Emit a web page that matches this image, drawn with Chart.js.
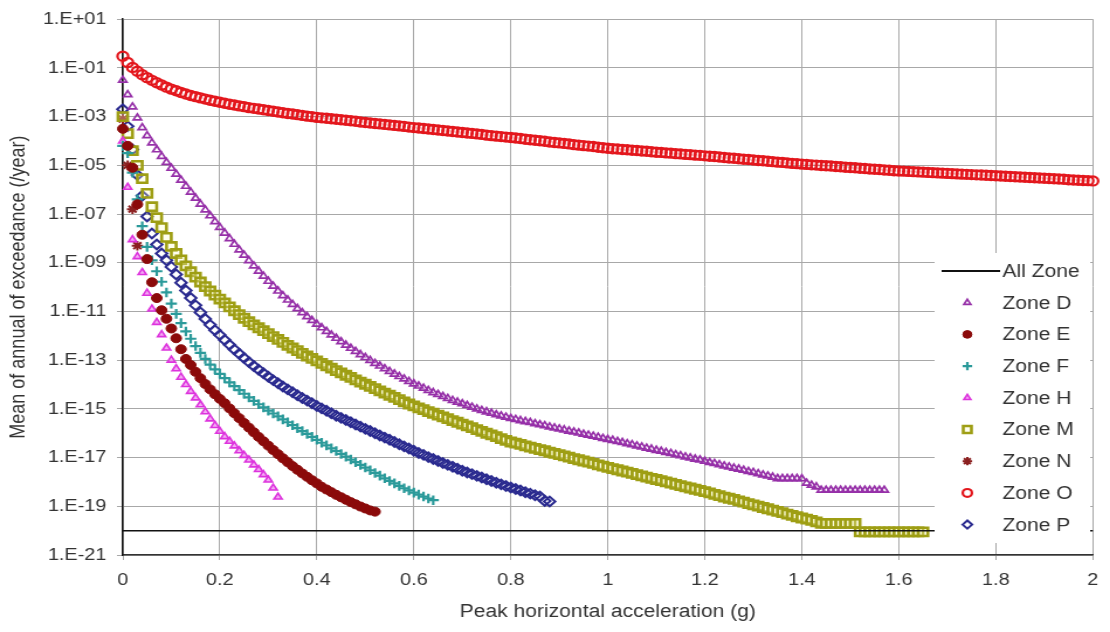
<!DOCTYPE html>
<html>
<head>
<meta charset="utf-8">
<script src="https://cdn.jsdelivr.net/npm/chart.js@4.4.1/dist/chart.umd.min.js"></script>
<style>
  html, body { margin: 0; padding: 0; background: #fff; overflow: hidden; }
  /* the source picture is stretched sideways, so the chart is drawn narrower and scaled */
  #wrap { width: 949px; height: 632px; transform: scaleX(1.1697); transform-origin: 0 0; }
</style>
</head>
<body>
<div id="wrap"><canvas id="hazard-chart"></canvas></div>
<script>
// peak horizontal acceleration (g), shared by every zone
const pga = [
  0,0.01,0.02,0.03,0.04,0.05,0.06,0.07,0.08,0.09,
  0.1,0.11,0.12,0.13,0.14,0.15,0.16,0.17,0.18,0.19,
  0.2,0.21,0.22,0.23,0.24,0.25,0.26,0.27,0.28,0.29,
  0.3,0.31,0.32,0.33,0.34,0.35,0.36,0.37,0.38,0.39,
  0.4,0.41,0.42,0.43,0.44,0.45,0.46,0.47,0.48,0.49,
  0.5,0.51,0.52,0.53,0.54,0.55,0.56,0.57,0.58,0.59,
  0.6,0.61,0.62,0.63,0.64,0.65,0.66,0.67,0.68,0.69,
  0.7,0.71,0.72,0.73,0.74,0.75,0.76,0.77,0.78,0.79,
  0.8,0.81,0.82,0.83,0.84,0.85,0.86,0.87,0.88,0.89,
  0.9,0.91,0.92,0.93,0.94,0.95,0.96,0.97,0.98,0.99,
  1,1.01,1.02,1.03,1.04,1.05,1.06,1.07,1.08,1.09,
  1.1,1.11,1.12,1.13,1.14,1.15,1.16,1.17,1.18,1.19,
  1.2,1.21,1.22,1.23,1.24,1.25,1.26,1.27,1.28,1.29,
  1.3,1.31,1.32,1.33,1.34,1.35,1.36,1.37,1.38,1.39,
  1.4,1.41,1.42,1.43,1.44,1.45,1.46,1.47,1.48,1.49,
  1.5,1.51,1.52,1.53,1.54,1.55,1.56,1.57,1.58,1.59,
  1.6,1.61,1.62,1.63,1.64,1.65,1.66,1.67,1.68,1.69,
  1.7,1.71,1.72,1.73,1.74,1.75,1.76,1.77,1.78,1.79,
  1.8,1.81,1.82,1.83,1.84,1.85,1.86,1.87,1.88,1.89,
  1.9,1.91,1.92,1.93,1.94,1.95,1.96,1.97,1.98,1.99,2
];

// rates are kept as log10 of the annual exceedance (/year)
const zoneD_log = [
  -1.50,-2.10,-2.60,-3.05,-3.45,-3.78,-4.08,-4.36,-4.63,-4.88,
  -5.12,-5.36,-5.61,-5.86,-6.10,-6.35,-6.59,-6.83,-7.07,-7.31,
  -7.55,-7.78,-8.01,-8.24,-8.47,-8.69,-8.91,-9.13,-9.34,-9.55,
  -9.76,-9.96,-10.16,-10.35,-10.53,-10.71,-10.88,-11.05,-11.21,-11.37,
  -11.52,-11.67,-11.82,-11.96,-12.10,-12.24,-12.38,-12.51,-12.64,-12.77,
  -12.89,-13.01,-13.13,-13.24,-13.35,-13.46,-13.57,-13.67,-13.77,-13.87,
  -13.97,-14.06,-14.15,-14.24,-14.33,-14.41,-14.49,-14.57,-14.65,-14.72,
  -14.79,-14.86,-14.93,-15.00,-15.06,-15.12,-15.18,-15.24,-15.29,-15.34,
  -15.39,-15.43,-15.48,-15.52,-15.56,-15.61,-15.65,-15.69,-15.74,-15.78,
  -15.82,-15.86,-15.91,-15.95,-15.99,-16.04,-16.08,-16.12,-16.16,-16.21,
  -16.25,-16.29,-16.34,-16.38,-16.43,-16.47,-16.52,-16.56,-16.61,-16.65,
  -16.70,-16.74,-16.79,-16.83,-16.88,-16.92,-16.97,-17.01,-17.06,-17.10,
  -17.15,-17.20,-17.24,-17.29,-17.34,-17.38,-17.43,-17.47,-17.52,-17.57,
  -17.61,-17.66,-17.71,-17.75,-17.80,-17.86,-17.86,-17.86,-17.86,-17.86,
  -17.87,-18.05,-18.13,-18.20,-18.34,-18.34,-18.34,-18.34,-18.34,-18.34,
  -18.34,-18.34,-18.34,-18.34,-18.34,-18.34,-18.34,-18.34
];
const zoneE_log = [
  -3.50,-4.20,-5.10,-6.60,-7.85,-8.85,-9.80,-10.45,-10.95,-11.30,
  -11.70,-12.10,-12.55,-12.95,-13.20,-13.48,-13.74,-13.98,-14.20,-14.40,
  -14.59,-14.77,-14.98,-15.18,-15.38,-15.58,-15.77,-15.96,-16.15,-16.33,
  -16.51,-16.69,-16.86,-17.03,-17.19,-17.35,-17.50,-17.65,-17.79,-17.93,
  -18.06,-18.20,-18.31,-18.42,-18.53,-18.63,-18.73,-18.83,-18.92,-19.01,
  -19.09,-19.17,-19.22
];
const zoneF_log = [
  -4.20,-4.50,-5.30,-6.40,-7.50,-8.35,-8.90,-9.35,-9.78,-10.22,
  -10.68,-11.10,-11.48,-11.82,-12.12,-12.42,-12.70,-12.95,-13.18,-13.38,
  -13.56,-13.74,-13.91,-14.07,-14.23,-14.38,-14.53,-14.67,-14.81,-14.94,
  -15.07,-15.19,-15.31,-15.43,-15.55,-15.67,-15.79,-15.91,-16.03,-16.15,
  -16.27,-16.39,-16.50,-16.62,-16.73,-16.85,-16.96,-17.08,-17.19,-17.30,
  -17.41,-17.52,-17.63,-17.74,-17.85,-17.96,-18.06,-18.16,-18.26,-18.35,
  -18.44,-18.52,-18.60,-18.68,-18.75
];
const zoneH_log = [
  -4.00,-5.90,-8.05,-8.75,-9.40,-10.25,-10.90,-11.45,-11.95,-12.50,
  -13.00,-13.35,-13.70,-14.00,-14.28,-14.55,-14.83,-15.12,-15.41,-15.68,
  -15.92,-16.14,-16.33,-16.52,-16.72,-16.91,-17.10,-17.30,-17.49,-17.70,
  -17.92,-18.25,-18.62
];
const zoneM_log = [
  -3.00,-3.70,-4.40,-5.00,-5.55,-6.15,-6.70,-7.15,-7.56,-7.96,
  -8.33,-8.62,-8.88,-9.13,-9.37,-9.59,-9.79,-9.98,-10.16,-10.33,
  -10.49,-10.65,-10.81,-10.97,-11.13,-11.28,-11.42,-11.55,-11.67,-11.79,
  -11.91,-12.03,-12.15,-12.27,-12.39,-12.50,-12.61,-12.72,-12.83,-12.93,
  -13.03,-13.13,-13.23,-13.33,-13.43,-13.52,-13.62,-13.71,-13.81,-13.90,
  -13.99,-14.08,-14.17,-14.26,-14.35,-14.44,-14.53,-14.62,-14.71,-14.80,
  -14.88,-14.96,-15.03,-15.11,-15.18,-15.26,-15.33,-15.40,-15.48,-15.55,
  -15.63,-15.70,-15.77,-15.85,-15.92,-16.00,-16.07,-16.14,-16.22,-16.29,
  -16.36,-16.41,-16.46,-16.52,-16.57,-16.62,-16.67,-16.72,-16.78,-16.83,
  -16.88,-16.93,-16.98,-17.04,-17.09,-17.14,-17.19,-17.24,-17.30,-17.35,
  -17.40,-17.45,-17.50,-17.55,-17.60,-17.65,-17.70,-17.75,-17.80,-17.85,
  -17.90,-17.95,-18.00,-18.05,-18.10,-18.15,-18.20,-18.25,-18.30,-18.35,
  -18.40,-18.45,-18.51,-18.56,-18.62,-18.67,-18.72,-18.78,-18.83,-18.89,
  -18.94,-18.99,-19.05,-19.10,-19.16,-19.21,-19.26,-19.32,-19.37,-19.43,
  -19.48,-19.53,-19.58,-19.64,-19.70,-19.70,-19.70,-19.70,-19.70,-19.70,
  -19.70,-19.70,-20.05,-20.05,-20.05,-20.05,-20.05,-20.05,-20.05,-20.05,
  -20.05,-20.05,-20.05,-20.05,-20.05,-20.05
];
const zoneN_log = [-3.10,-5.00,-6.80,-8.30];
const zoneO_log = [
  -0.52,-0.78,-0.98,-1.14,-1.28,-1.40,-1.51,-1.61,-1.70,-1.79,
  -1.87,-1.94,-2.01,-2.07,-2.13,-2.18,-2.23,-2.28,-2.33,-2.37,
  -2.41,-2.45,-2.49,-2.52,-2.56,-2.59,-2.63,-2.66,-2.69,-2.72,
  -2.75,-2.78,-2.81,-2.84,-2.87,-2.89,-2.92,-2.95,-2.98,-3.00,
  -3.03,-3.05,-3.07,-3.09,-3.11,-3.13,-3.15,-3.17,-3.19,-3.22,
  -3.24,-3.26,-3.28,-3.30,-3.32,-3.34,-3.36,-3.38,-3.40,-3.43,
  -3.45,-3.47,-3.49,-3.51,-3.53,-3.55,-3.57,-3.59,-3.61,-3.63,
  -3.65,-3.67,-3.69,-3.71,-3.73,-3.76,-3.78,-3.80,-3.82,-3.84,
  -3.86,-3.88,-3.90,-3.93,-3.95,-3.97,-3.99,-4.01,-4.04,-4.06,
  -4.08,-4.10,-4.12,-4.15,-4.17,-4.19,-4.21,-4.23,-4.26,-4.28,
  -4.30,-4.32,-4.33,-4.35,-4.36,-4.38,-4.39,-4.41,-4.42,-4.44,
  -4.46,-4.47,-4.49,-4.50,-4.52,-4.53,-4.55,-4.56,-4.58,-4.59,
  -4.61,-4.63,-4.64,-4.66,-4.68,-4.70,-4.71,-4.73,-4.75,-4.76,
  -4.78,-4.80,-4.81,-4.83,-4.85,-4.87,-4.88,-4.90,-4.92,-4.93,
  -4.95,-4.96,-4.98,-4.99,-5.01,-5.02,-5.03,-5.05,-5.06,-5.08,
  -5.09,-5.10,-5.12,-5.13,-5.15,-5.16,-5.17,-5.19,-5.20,-5.22,
  -5.23,-5.24,-5.25,-5.26,-5.27,-5.28,-5.29,-5.30,-5.31,-5.32,
  -5.33,-5.34,-5.35,-5.36,-5.37,-5.38,-5.39,-5.40,-5.41,-5.42,
  -5.43,-5.44,-5.45,-5.46,-5.47,-5.48,-5.49,-5.50,-5.51,-5.52,
  -5.53,-5.54,-5.55,-5.56,-5.57,-5.59,-5.60,-5.61,-5.62,-5.63,-5.64
];
const zoneP_log = [
  -2.70,-3.40,-4.35,-5.40,-6.25,-7.10,-7.80,-8.25,-8.62,-8.90,
  -9.17,-9.48,-9.82,-10.14,-10.45,-10.75,-11.04,-11.31,-11.55,-11.77,
  -11.97,-12.17,-12.37,-12.56,-12.74,-12.91,-13.08,-13.24,-13.39,-13.54,
  -13.68,-13.82,-13.95,-14.08,-14.20,-14.32,-14.44,-14.55,-14.66,-14.77,
  -14.88,-14.98,-15.08,-15.18,-15.28,-15.37,-15.46,-15.55,-15.64,-15.73,
  -15.82,-15.91,-16.00,-16.09,-16.18,-16.27,-16.36,-16.45,-16.54,-16.63,
  -16.72,-16.81,-16.89,-16.98,-17.06,-17.14,-17.22,-17.30,-17.38,-17.46,
  -17.54,-17.61,-17.68,-17.75,-17.82,-17.89,-17.96,-18.03,-18.10,-18.17,
  -18.23,-18.29,-18.35,-18.42,-18.48,-18.55,-18.60,-18.78,-18.80
];
const allZoneX = [0, 2];
const allZoneY = [1e-20, 1e-20];

const xTickValues = [0, 0.2, 0.4, 0.6, 0.8, 1, 1.2, 1.4, 1.6, 1.8, 2];
const xTickLabels = ['0', '0.2', '0.4', '0.6', '0.8', '1', '1.2', '1.4', '1.6', '1.8', '2'];
const yTickValues = [1e1, 1e-1, 1e-3, 1e-5, 1e-7, 1e-9, 1e-11, 1e-13, 1e-15, 1e-17, 1e-19, 1e-21];
const yTickLabels = ['1.E+01', '1.E-01', '1.E-03', '1.E-05', '1.E-07', '1.E-09',
                     '1.E-11', '1.E-13', '1.E-15', '1.E-17', '1.E-19', '1.E-21'];

function toPoints(logs) {
    return logs.map((e, i) => ({ x: pga[i], y: Math.pow(10, e) }));
}

function zone(label, logs, style, color, fill, radius, width) {
    return {
        label: label, data: toPoints(logs), showLine: false, clip: false,
        pointStyle: style, pointRadius: radius, pointBorderWidth: width,
        borderColor: color, backgroundColor: fill,
        pointBorderColor: color, pointBackgroundColor: fill
    };
}

const datasets = [
    {
        label: 'All Zone', data: allZoneX.map((x, i) => ({ x: x, y: allZoneY[i] })),
        showLine: true, pointRadius: 0, borderColor: '#111', borderWidth: 1.5, clip: false
    },
    zone('Zone D', zoneD_log, 'triangle', '#9630a8', 'rgba(255,255,255,0)', 4, 1.7),
    zone('Zone E', zoneE_log, 'circle', '#8b0a0a', '#8b0a0a', 4.5, 1),
    zone('Zone F', zoneF_log, 'cross', '#2b9a9a', '#2b9a9a', 4.8, 2.2),
    zone('Zone H', zoneH_log, 'triangle', '#dd33dd', 'rgba(240,150,240,0.8)', 4, 1.6),
    zone('Zone M', zoneM_log, 'rect', '#9e9e14', 'rgba(255,255,200,0.3)', 5.8, 2.6),
    zone('Zone N', zoneN_log, 'star', '#8b2020', '#8b2020', 4.8, 2),
    zone('Zone O', zoneO_log, 'circle', '#e3161c', 'rgba(255,255,255,0)', 4.6, 2.2),
    zone('Zone P', zoneP_log, 'rectRot', '#2a2a8f', 'rgba(255,255,255,0)', 4.8, 2)
];

// legend sits inside the plot, on a white box at the right
const insideLegend = {
    id: 'insideLegend',
    afterDatasetsDraw(chart) {
        const ctx = chart.ctx;
        const markX = 827, textX = 857, firstY = 271, step = 31.7;
        ctx.save();
        ctx.fillStyle = '#fff';
        ctx.fillRect(799, 253, 133, 290);
        ctx.font = '18px "Liberation Sans", Arial, sans-serif';
        ctx.textBaseline = 'middle';
        ctx.textAlign = 'left';
        chart.data.datasets.forEach((ds, i) => {
            const y = firstY + i * step;
            if (ds.showLine) {
                ctx.strokeStyle = ds.borderColor;
                ctx.lineWidth = 2;
                ctx.beginPath();
                ctx.moveTo(805, y);
                ctx.lineTo(855, y);
                ctx.stroke();
            } else {
                ctx.fillStyle = ds.pointBackgroundColor;
                ctx.strokeStyle = ds.pointBorderColor;
                ctx.lineWidth = ds.pointBorderWidth;
                Chart.helpers.drawPoint(ctx, {
                    pointStyle: ds.pointStyle, radius: ds.pointRadius * 0.85,
                    borderWidth: ds.pointBorderWidth, rotation: 0
                }, markX, y);
            }
            ctx.fillStyle = '#333';
            ctx.fillText(ds.label, textX, y + 1);
        });
        ctx.restore();
    }
};

Chart.defaults.font.family = '"Liberation Sans", Arial, sans-serif';
Chart.defaults.color = '#333';

new Chart(document.getElementById('hazard-chart'), {
    type: 'scatter',
    data: { datasets: datasets },
    plugins: [insideLegend],
    options: {
        responsive: true,
        maintainAspectRatio: false,
        animation: false,
        layout: { padding: { top: 18, right: 11, left: 0, bottom: 0 } },
        plugins: { legend: { display: false }, tooltip: { enabled: false } },
        scales: {
            x: {
                type: 'linear', min: 0, max: 2,
                afterBuildTicks: s => { s.ticks = xTickValues.map(v => ({ value: v })); },
                afterFit: s => { s.height = 77; },
                ticks: { callback: (v, i) => xTickLabels[i], font: { size: 17 }, padding: 10, maxRotation: 0, autoSkip: false },
                grid: { color: '#a8a8a8', lineWidth: 1, tickLength: 5 },
                border: { color: '#333', width: 1.5 },
                title: { display: true, text: 'Peak horizontal acceleration (g)', font: { size: 18 }, padding: { top: 0, bottom: 9 } }
            },
            y: {
                type: 'logarithmic', min: 1e-21, max: 10,
                afterBuildTicks: s => { s.ticks = yTickValues.map(v => ({ value: v })); },
                afterFit: s => { s.width = 105; },
                ticks: { callback: (v, i) => yTickLabels[i], font: { size: 17 }, padding: 9, autoSkip: false },
                grid: { color: '#a8a8a8', lineWidth: 1, tickLength: 5 },
                border: { color: '#111', width: 1.5 },
                title: { display: true, text: 'Mean of annual of exceedance (/year)', font: { size: 18 }, padding: { top: 5, bottom: 0 } }
            }
        }
    }
});
</script>
</body>
</html>
